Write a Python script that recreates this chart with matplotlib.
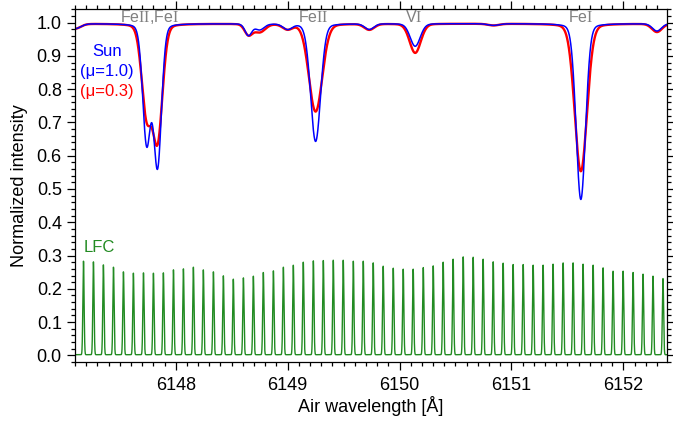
import numpy as np
import matplotlib
matplotlib.use("Agg")
import matplotlib.pyplot as plt
from matplotlib.ticker import MultipleLocator

plt.rcParams['font.family'] = ['Liberation Sans', 'DejaVu Sans']
plt.rcParams['mathtext.fontset'] = 'custom'
plt.rcParams['mathtext.rm'] = 'Liberation Serif'

# solar lines: centre [A], depth and gaussian width for disc centre (mu=1.0) and limb (mu=0.3)
line_wl = [6147.10, 6147.741, 6147.837, 6148.65, 6148.75, 6149.00, 6149.25,
           6149.73, 6150.14, 6150.84, 6151.62, 6152.30]
depth_mu10 = [0.015, 0.36, 0.43, 0.035, 0.018, 0.016, 0.355, 0.017, 0.068, 0.005, 0.53, 0.022]
width_mu10 = [0.05, 0.036, 0.036, 0.030, 0.040, 0.040, 0.045, 0.040, 0.045, 0.05, 0.042, 0.040]
depth_mu03 = [0.015, 0.27, 0.345, 0.032, 0.025, 0.016, 0.265, 0.018, 0.088, 0.005, 0.445, 0.025]
width_mu03 = [0.05, 0.045, 0.045, 0.035, 0.050, 0.045, 0.060, 0.045, 0.050, 0.05, 0.055, 0.045]
lorentz_frac = 0.12
continuum = 0.997

# laser frequency comb modes
lfc_wl = [6147.176, 6147.265, 6147.354, 6147.444, 6147.533, 6147.622, 6147.712, 6147.801,
          6147.890, 6147.980, 6148.069, 6148.158, 6148.247, 6148.337, 6148.426, 6148.515,
          6148.605, 6148.694, 6148.783, 6148.873, 6148.962, 6149.051, 6149.140, 6149.230,
          6149.319, 6149.408, 6149.497, 6149.587, 6149.676, 6149.765, 6149.854, 6149.944,
          6150.033, 6150.122, 6150.212, 6150.301, 6150.390, 6150.479, 6150.569, 6150.658,
          6150.747, 6150.837, 6150.926, 6151.015, 6151.105, 6151.194, 6151.283, 6151.372,
          6151.462, 6151.551, 6151.640, 6151.730, 6151.819, 6151.908, 6151.998, 6152.087,
          6152.176, 6152.265, 6152.354]
lfc_peak = [0.283, 0.281, 0.272, 0.265, 0.251, 0.247, 0.248, 0.247, 0.248, 0.257, 0.260,
            0.265, 0.257, 0.251, 0.239, 0.229, 0.233, 0.238, 0.249, 0.254, 0.265, 0.271,
            0.280, 0.284, 0.285, 0.286, 0.286, 0.283, 0.283, 0.278, 0.268, 0.262, 0.259,
            0.259, 0.264, 0.269, 0.280, 0.289, 0.296, 0.295, 0.289, 0.281, 0.277, 0.273,
            0.273, 0.271, 0.271, 0.274, 0.278, 0.278, 0.274, 0.271, 0.263, 0.253, 0.253,
            0.249, 0.244, 0.238, 0.231]
lfc_width = 0.0055
lfc_base = 0.002

line_labels = [r'Fe$\mathrm{II}$,Fe$\mathrm{I}$', r'Fe$\mathrm{II}$', r'V$\mathrm{I}$', r'Fe$\mathrm{I}$']
label_wl = [6147.77, 6149.23, 6150.125, 6151.62]

wl = np.linspace(6147.0, 6152.5, 12000)


def spectrum(c, d, w):
    f = np.full_like(wl, continuum)
    for ci, di, wi in zip(c, d, w):
        x = (wl - ci) / wi
        prof = (1 - lorentz_frac) * np.exp(-0.5 * x ** 2) + lorentz_frac / (1 + (x / 1.1774) ** 2)
        f *= 1 - di * prof
    return f


sun10 = spectrum(line_wl, depth_mu10, width_mu10)
sun03 = spectrum(line_wl, depth_mu03, width_mu03)
lfc = np.full_like(wl, lfc_base)
for c, h in zip(lfc_wl, lfc_peak):
    lfc += (h - lfc_base) * np.exp(-0.5 * ((wl - c) / lfc_width) ** 2)

fig = plt.figure(figsize=(6.73, 4.21), dpi=100)
ax = fig.add_axes([0.1114, 0.1401, 0.8797, 0.8378])

ax.plot(wl, lfc, color='#228b22', lw=1.0)
ax.plot(wl, sun03, color='red', lw=1.7)
ax.plot(wl, sun10, color='blue', lw=1.1)

ax.set_xlim(6147.1, 6152.39)
ax.set_ylim(-0.02, 1.04)

ax.xaxis.set_major_locator(MultipleLocator(1))
ax.xaxis.set_minor_locator(MultipleLocator(0.1))
ax.yaxis.set_major_locator(MultipleLocator(0.1))
ax.yaxis.set_minor_locator(MultipleLocator(0.02))
ax.xaxis.set_major_formatter(plt.FormatStrFormatter('%d'))
ax.yaxis.set_major_formatter(plt.FormatStrFormatter('%.1f'))
ax.tick_params(which='both', direction='out', top=True, right=True, width=0.9, labelsize=13)
ax.tick_params(which='major', length=6)
ax.tick_params(which='minor', length=3)
ax.tick_params(axis='x', pad=5)
for s in ax.spines.values():
    s.set_linewidth(0.9)

ax.set_xlabel('Air wavelength [Å]', fontsize=13, labelpad=1)
ax.set_ylabel('Normalized intensity', fontsize=13, labelpad=6)

for lab, x in zip(line_labels, label_wl):
    ax.text(x, 1.017, lab, color='#808080', fontsize=11.5, ha='center', va='center')

ax.text(6147.385, 0.913, 'Sun', color='blue', fontsize=12, ha='center', va='center')
ax.text(6147.385, 0.853, '(μ=1.0)', color='blue', fontsize=12, ha='center', va='center')
ax.text(6147.385, 0.793, '(μ=0.3)', color='red', fontsize=12, ha='center', va='center')
ax.text(6147.315, 0.323, 'LFC', color='#228b22', fontsize=12, ha='center', va='center')

fig.savefig('out.png', dpi=100)
